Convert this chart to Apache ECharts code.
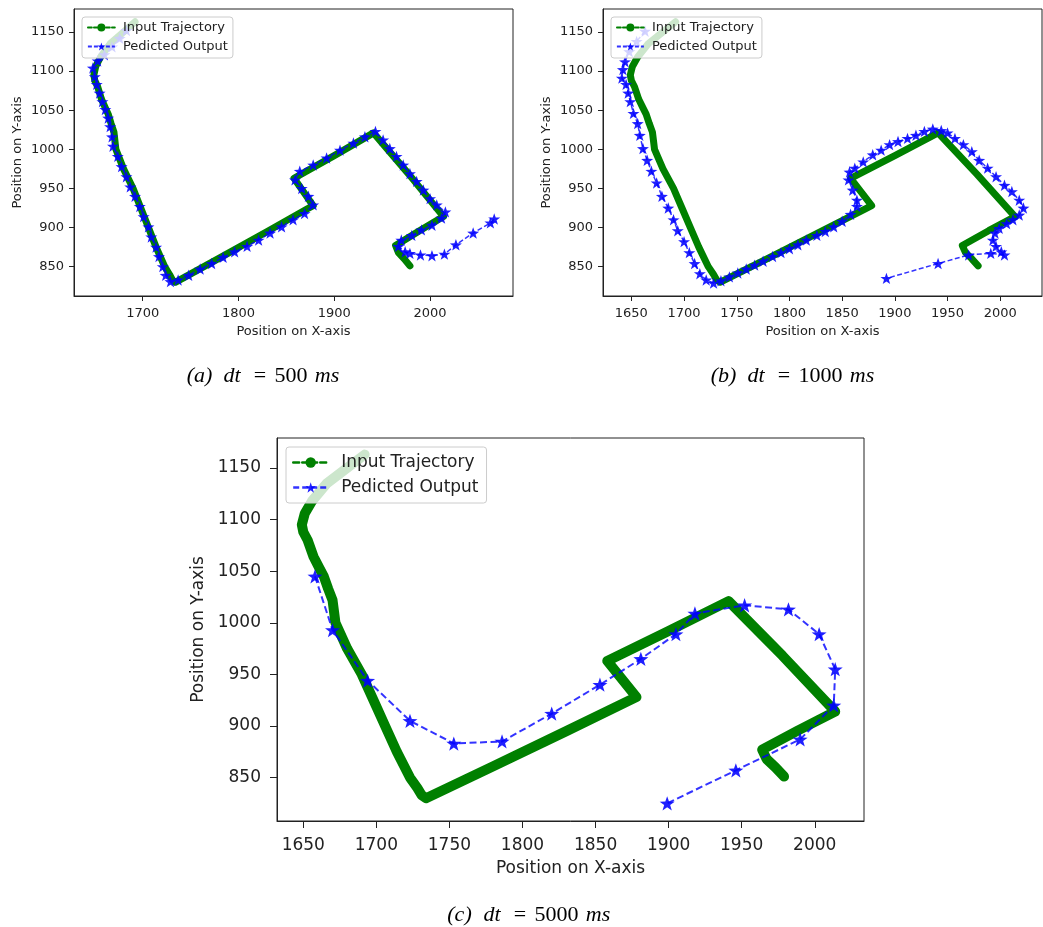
<!DOCTYPE html>
<html><head><meta charset="utf-8">
<script src="https://cdn.jsdelivr.net/npm/echarts@6/dist/echarts.min.js"></script>
<style>html,body{margin:0;padding:0;background:#fff}#c{width:1043px;height:927px}</style>
</head><body><div id="c"></div>
<script>
// ---------- data ----------
const seriesNames = ['Input Trajectory', 'Pedicted Output'];
const yTicks = [850, 900, 950, 1000, 1050, 1100, 1150];
const xTicksA = [1700, 1800, 1900, 2000];
const xTicksBC = [1650, 1700, 1750, 1800, 1850, 1900, 1950, 2000];
const captionLetters = ['(a)', '(b)', '(c)'];
const captionDt = ['500', '1000', '5000'];

// input trajectory (same in all panels)
const inputX = [1692,1679,1666,1656,1651,1649,1650,1653,1657,1661,1664,1667,1670,1671,1672,1680,1690,1698,1706,1714,1723,1728,1731,1734,1780,1830,1872,1878,1858,1900,1941,1978,2014,1989,1964,1967,1973,1979];
const inputY = [1163,1149,1135,1118,1106,1095,1088,1080,1064,1053,1045,1033,1022,1011,1000,975,950,925,900,875,850,840,833,830,861,895,924,928,963,992,1021,968,914,896,877,868,860,851];

// predicted output, dt = 500 ms
const predAX = [1683,1676,1668,1660,1653,1648,1650,1652,1655,1658,1661,1664,1666,1668,1669,1674,1678,1683,1687,1692,1697,1701,1706,1709,1714,1717,1721,1724,1729,1737,1748,1760,1772,1784,1796,1809,1821,1833,1845,1857,1869,1878,1873,1866,1859,1864,1878,1892,1906,1920,1932,1943,1951,1958,1965,1972,1979,1986,1993,2000,2007,2016,2012,2002,1991,1981,1970,1967,1974,1979,1990,2002,2015,2027,2045,2063,2067];
const predAY = [1152,1142,1131,1121,1113,1104,1093,1083,1072,1061,1051,1040,1029,1016,1004,991,978,965,952,940,927,914,901,888,875,863,850,839,831,833,839,847,854,862,869,876,884,893,901,910,918,929,940,950,961,972,980,989,999,1008,1016,1023,1012,1001,991,980,969,959,948,937,929,920,912,903,897,890,884,876,869,867,865,864,866,878,893,906,911];

// predicted output, dt = 1000 ms
const predBX = [1663,1655,1648,1644,1642,1641,1645,1647,1649,1652,1656,1658,1661,1665,1669,1674,1679,1685,1690,1694,1700,1705,1710,1715,1721,1728,1735,1743,1751,1759,1767,1775,1784,1792,1800,1808,1816,1826,1834,1842,1850,1858,1864,1864,1860,1856,1857,1862,1870,1879,1887,1895,1903,1912,1920,1928,1936,1944,1950,1957,1965,1973,1980,1988,1996,2004,2011,2018,2022,2018,2012,2006,1999,1995,1993,1996,2001,2004,1991,1970,1941,1892];
const predBY = [1151,1138,1125,1112,1102,1091,1083,1072,1061,1046,1033,1018,1001,986,972,957,940,925,910,896,882,868,854,841,833,829,832,837,842,847,852,857,863,868,873,878,884,890,895,901,908,917,927,935,948,961,971,976,984,993,999,1006,1010,1014,1018,1023,1026,1024,1021,1014,1006,997,986,976,965,954,946,935,925,916,910,905,899,893,884,876,869,865,867,865,854,835];

// predicted output, dt = 5000 ms
const predCX = [1658,1670,1694,1723,1753,1786,1820,1853,1881,1905,1918,1952,1982,2003,2014,2013,1990,1946,1899];
const predCY = [1045,993,944,905,883,885,912,940,965,989,1009,1017,1013,989,955,920,887,857,825];

// ---------- layout / style ----------
const FONT = 'DejaVu Sans';
const TXT = '#222';
const STAR = 'path://M0,-10 L2.35,-3.24 L9.51,-3.09 L3.8,1.24 L5.88,8.09 L0,4 L-5.88,8.09 L-3.8,1.24 L-9.51,-3.09 L-2.35,-3.24 Z';

const panels = [
  {left:74, top:9, width:439, height:287, xmin:1628.3, xmax:2086.6, ymin:812.5, ymax:1179.4, xt:xTicksA,
   fs:13, tick:5, xm:11, ym:10, xg:29, yg:50, star:12, gw:7, bw:1.5, dash:[5,2.5],
   lg:{left:82, top:17, iw:27, ih:10, gap:6, pad:[4,5,5,5], tp:3, ldash:[4,2], lw:1.8},
   px:predAX, py:predAY},
  {left:603, top:9, width:439, height:287, xmin:1623.1, xmax:2039.6, ymin:812.5, ymax:1179.4, xt:xTicksBC,
   fs:13, tick:5, xm:11, ym:10, xg:29, yg:50, star:12, gw:7, bw:1.5, dash:[5,2.5],
   lg:{left:611, top:17, iw:27, ih:10, gap:6, pad:[4,5,5,5], tp:3, ldash:[4,2], lw:1.8},
   px:predBX, py:predBY},
  {left:277, top:438, width:587, height:383, xmin:1632, xmax:2033.7, ymin:807.9, ymax:1179.1, xt:xTicksBC,
   fs:17, tick:7, xm:16, ym:16, xg:39, yg:61, star:15, gw:10, bw:2, dash:[7,3.5],
   lg:{left:286, top:447, iw:35, ih:13, gap:8, pad:[7,8,7,6], tp:8, ldash:[6,3], lw:2.4},
   px:predCX, py:predCY}
];

const zip = (xs, ys) => xs.map((x, i) => [x, ys[i]]);
const plain = (v) => String(v);

const grid = [], xAxis = [], yAxis = [], series = [], legend = [];
panels.forEach((p, i) => {
  grid.push({left:p.left, top:p.top, width:p.width, height:p.height, show:true,
    borderColor:'#222', borderWidth:1, backgroundColor:'transparent', containLabel:false});
  const common = (ticks, margin) => ({
    axisLine:{show:true, onZero:false, lineStyle:{color:'#222', width:1}},
    axisTick:{show:true, inside:false, length:p.tick, customValues:ticks, lineStyle:{color:'#222', width:1}},
    axisLabel:{customValues:ticks, formatter:plain, fontSize:p.fs, fontFamily:FONT, color:TXT, margin:margin, hideOverlap:false},
    splitLine:{show:false},
    nameTextStyle:{fontSize:p.fs, fontFamily:FONT, color:TXT},
    nameLocation:'middle'
  });
  xAxis.push(Object.assign({type:'value', gridIndex:i, min:p.xmin, max:p.xmax,
    name:'Position on X-axis', nameGap:p.xg}, common(p.xt, p.xm)));
  yAxis.push(Object.assign({type:'value', gridIndex:i, min:p.ymin, max:p.ymax,
    name:'Position on Y-axis', nameGap:p.yg, nameRotate:90}, common(yTicks, p.ym)));
  series.push({
    type:'line', name:seriesNames[0], xAxisIndex:i, yAxisIndex:i,
    data:zip(inputX, inputY), symbol:'circle', symbolSize:p.gw, showSymbol:false,
    lineStyle:{color:'#008000', width:p.gw, cap:'round', join:'round'},
    itemStyle:{color:'#008000'}, z:2, silent:true, animation:false
  });
  series.push({
    type:'line', name:seriesNames[1], xAxisIndex:i, yAxisIndex:i,
    data:zip(p.px, p.py), symbol:STAR, symbolSize:p.star, symbolKeepAspect:true, showSymbol:true,
    lineStyle:{color:'#0000ff', width:p.bw, type:p.dash, opacity:0.8},
    itemStyle:{color:'#0000ff', opacity:0.88}, z:3, silent:true, animation:false
  });
  legend.push({
    left:p.lg.left, top:p.lg.top, orient:'vertical', selectedMode:false,
    itemWidth:p.lg.iw, itemHeight:p.lg.ih, itemGap:p.lg.gap, padding:p.lg.pad,
    backgroundColor:'rgba(255,255,255,0.8)', borderColor:'#cccccc', borderWidth:1, borderRadius:3,
    lineStyle:{width:p.lg.lw, type:p.lg.ldash},
    textStyle:{fontSize:p.fs, fontFamily:FONT, color:TXT, padding:[0,0,0,p.lg.tp]},
    data:seriesNames, z:10
  });
});

// captions
const capPos = [{x:183, y:376, w:38}, {x:707, y:376, w:49}, {x:443, y:915, w:49}];
const capRich = (w) => {
  const it = {fontFamily:'Liberation Serif', fontStyle:'italic', fontSize:22, color:'#111'};
  const up = {fontFamily:'Liberation Serif', fontSize:22, color:'#111'};
  return {
    p:Object.assign({width:33, align:'center'}, it),
    d:Object.assign({width:32, align:'center'}, it),
    e:Object.assign({width:24, align:'center'}, up),
    n:Object.assign({width:w, align:'center'}, up),
    m:Object.assign({width:34, align:'center'}, it)
  };
};
const graphic = captionLetters.map((l, i) => ({
  type:'text', x:capPos[i].x, y:capPos[i].y, silent:true,
  style:{text:'{p|' + l + '}{d|dt}{e|=}{n|' + captionDt[i] + '}{m|ms}', rich:capRich(capPos[i].w),
    verticalAlign:'middle', align:'left'}
}));

const chart = echarts.init(document.getElementById('c'), null, {renderer:'canvas'});
chart.setOption({animation:false, backgroundColor:'#fff', grid, xAxis, yAxis, series, legend, graphic});
</script></body></html>
